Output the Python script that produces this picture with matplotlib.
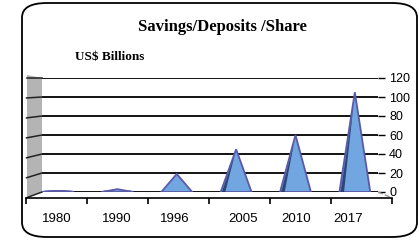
import matplotlib.pyplot as plt
from matplotlib.patches import Polygon, Ellipse, FancyBboxPatch

years = ["1980", "1990", "1996", "2005", "2010", "2017"]
values = [1, 3, 19, 45, 60, 105]
y_ticks = [0, 20, 40, 60, 80, 100, 120]

W, H = 419, 242
fig = plt.figure(figsize=(W / 100, H / 100), dpi=100)


def fx(px):
    return px / W


def fy(py):
    return 1 - py / H


# rounded frame
frame = FancyBboxPatch((fx(22), fy(237)), fx(417) - fx(22), fy(3) - fy(237),
                       boxstyle="round,pad=0,rounding_size=0.06",
                       transform=fig.transFigure, fill=False,
                       edgecolor="black", linewidth=1.3)
fig.patches.append(frame)

fig.text(fx(222), fy(27), "Savings/Deposits /Share", ha="center", va="center",
         fontsize=12, fontweight="bold", family="Liberation Serif")
fig.text(fx(75), fy(57), "US$ Billions", ha="left", va="center",
         fontsize=9.5, fontweight="bold", family="Liberation Serif")

# gray side wall
wall = Polygon([(fx(27), fy(75)), (fx(42), fy(78)), (fx(42), fy(192)), (fx(27), fy(198))],
               closed=True, transform=fig.transFigure, facecolor="#b4b4b4",
               edgecolor="none", zorder=-1)
fig.patches.append(wall)

# main plot area
ax = fig.add_axes([fx(42), fy(192), fx(378) - fx(42), fy(78) - fy(192)])
ax.set_xlim(-0.27, 5.39)
ax.set_ylim(0, 120)
ax.set_facecolor("none")
for s in ax.spines.values():
    s.set_visible(False)
ax.yaxis.tick_right()
ax.set_yticks(y_ticks)
ax.set_yticklabels([str(t) for t in y_ticks], fontsize=9, family="Liberation Sans")
ax.tick_params(axis="y", length=5, width=1, pad=3)
ax.set_xticks([])
for t in y_ticks:
    ax.axhline(t, color="black", linewidth=1.3, zorder=1)
    # perspective dash on the wall
    ax.plot([-0.53, -0.27], [t - 6 + t * 0.05, t], color="#222222", lw=1.1,
            clip_on=False, zorder=1)
# floor edge at the right
ax.plot([5.39, 5.62], [0, -6], color="#999999", lw=1, ls="--", clip_on=False)

w = 0.26
for i, v in enumerate(values):
    ax.add_patch(Ellipse((i, 0), 2 * w, 2.5, facecolor="#6fa3de",
                         edgecolor="#5a5aa8", lw=1.2, zorder=3))
    ax.add_patch(Polygon([(i - w, 0), (i, v), (i + w, 0)], closed=True,
                         facecolor="#72a6e0", edgecolor="#5a5aa8", lw=1.3, zorder=3))
    if v > 30:
        ax.add_patch(Polygon([(i - w * 0.92, 0), (i - w * 0.1, v * 0.85), (i - w * 0.7, 0)],
                             closed=True, facecolor="#203565", edgecolor="none",
                             alpha=0.85, zorder=4))

# category axis
label_pos = [0.51, 1.49, 2.44, 3.56, 4.43, 5.28]
ax2 = fig.add_axes([fx(26), fy(198), fx(392) - fx(26), 0.001])
ax2.set_xlim(0, 6)
ax2.set_facecolor("none")
for k in ["top", "left", "right"]:
    ax2.spines[k].set_visible(False)
ax2.spines["bottom"].set_linewidth(1.2)
ax2.set_yticks([])
ax2.set_xticks(range(7))
ax2.set_xticklabels([])
ax2.tick_params(axis="x", length=4, width=1.2, direction="out")
ax2.set_xticks(label_pos, minor=True)
ax2.set_xticklabels(years, minor=True, fontsize=9.5, family="Liberation Sans")
ax2.tick_params(axis="x", which="minor", length=0, pad=11)

fig.savefig("out.png", dpi=100)
